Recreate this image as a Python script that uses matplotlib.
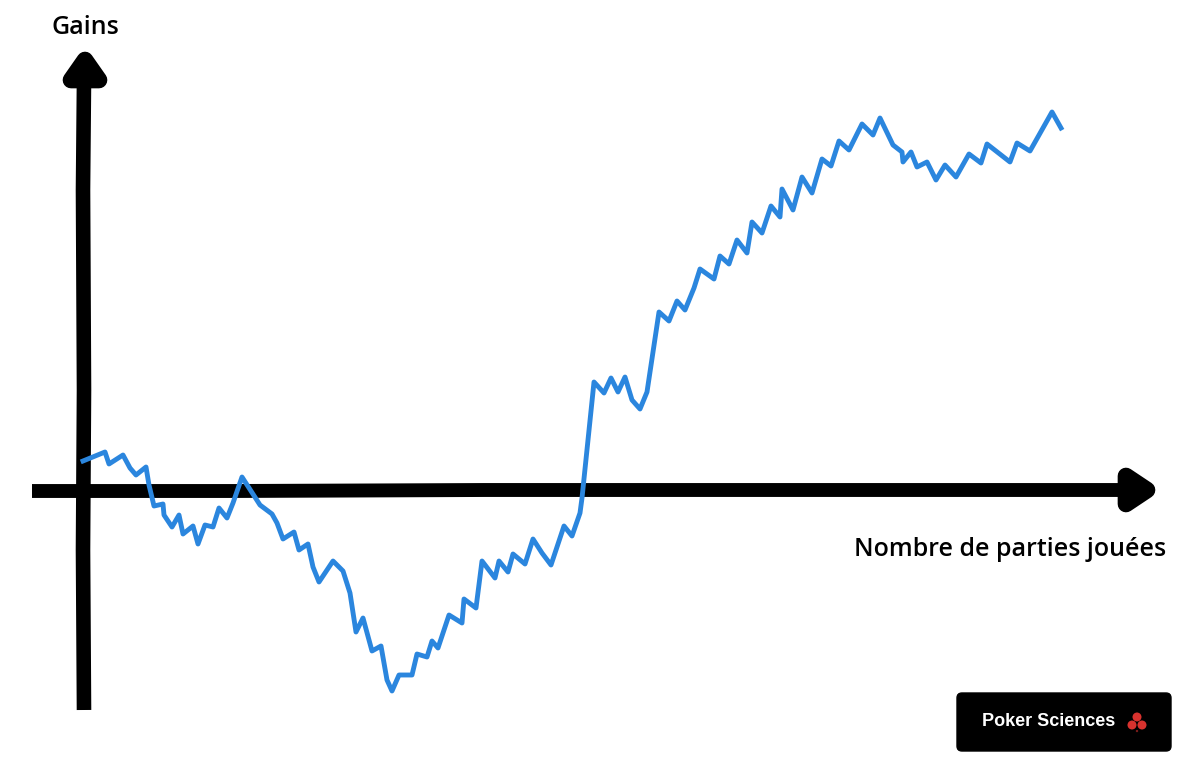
import matplotlib
matplotlib.use('Agg')
import matplotlib.pyplot as plt
from matplotlib.patches import Circle, FancyBboxPatch, Polygon

# courbe de gains (parties jouées, gains)
parties = [-1, 21, 25, 39, 46, 52, 62, 65, 70, 79, 80, 88, 95, 99, 109, 114, 121, 129, 135, 143,
           149, 158, 176, 188, 193, 199, 210, 215, 224, 229, 235, 249, 259, 266, 272, 279, 288, 297, 303, 308,
           315, 328, 333, 343, 348, 354, 365, 378, 380, 392, 398, 411, 415, 424, 429, 441, 449, 458, 467, 480,
           488, 496, 498, 510, 520, 527, 534, 541, 548, 556, 563, 575, 585, 593, 601, 610, 616, 630, 636, 645,
           653, 663, 668, 678, 687, 696, 698, 709, 718, 728, 738, 747, 755, 765, 778, 789, 796, 809, 818, 819,
           827, 833, 843, 852, 861, 872, 885, 897, 903, 926, 933, 946, 968, 977]
gains = [29, 38, 26, 35, 22, 15, 23, 5, -16, -14, -25, -37, -25, -44, -36, -54, -35, -37, -18, -28,
         -13, 13, -15, -24, -33, -49, -42, -60, -54, -77, -92, -71, -81, -103, -142, -128, -161, -156, -190, -201,
         -185, -185, -164, -167, -151, -158, -125, -133, -109, -118, -71, -88, -71, -82, -64, -74, -49, -63, -75, -36,
         -46, -23, -8, 108, 97, 112, 98, 113, 90, 81, 98, 178, 169, 189, 180, 202, 221, 211, 234, 226,
         250, 237, 268, 257, 284, 273, 301, 280, 313, 297, 331, 324, 349, 340, 366, 355, 372, 345, 338, 328,
         338, 323, 328, 310, 325, 313, 336, 327, 346, 328, 347, 339, 378, 362]

# axes dessinés à la main
axe_x_x = [-52, 150, 400, 700, 1040]
axe_x_y = [-1, -1, 0, 0, 0]
axe_y_x = [0, -1, 0, -1, 0]
axe_y_y = [-220, -60, 100, 300, 410]

titre_y = 'Gains'
titre_x = 'Nombre de parties jouées'
logo = 'Poker Sciences'

fig = plt.figure(figsize=(12, 7.75), dpi=100)
ax = fig.add_axes([0, 0, 1, 1])
ax.set_xlim(-84, 1116)
ax.set_ylim(-285, 490)
ax.axis('off')

ax.plot(axe_x_x, axe_x_y, color='black', lw=10, solid_capstyle='butt', zorder=1)
ax.plot(axe_y_x, axe_y_y, color='black', lw=10.5, solid_capstyle='butt', zorder=1)

# pointes de flèches
ax.add_patch(Polygon([(1, 430), (-13, 410), (15, 410)], closed=True, fc='black', ec='black',
                     lw=12, joinstyle='round', zorder=2))
ax.add_patch(Polygon([(1063, 0), (1042, 14), (1042, -14)], closed=True, fc='black', ec='black',
                     lw=12, joinstyle='round', zorder=2))

ax.plot(parties, gains, color='#2b86de', lw=3.5, solid_joinstyle='round', zorder=3)

ax.text(1, 463, titre_y, fontsize=18, family='Open Sans', fontweight='semibold',
        ha='center', va='center', color='black')
ax.text(926, -60, titre_x, fontsize=18, family='Open Sans', fontweight='semibold',
        ha='center', va='center', color='black')

# logo en bas à droite
ax.add_patch(FancyBboxPatch((873, -261), 214, 58, boxstyle='round,pad=0,rounding_size=5',
                            fc='black', ec='black', lw=1, zorder=4))
ax.text(965, -232, logo, fontsize=13, fontweight='bold', color='white', ha='center', va='center',
        family='Liberation Sans', zorder=5)
for cx, cy in [(1053, -227), (1048, -235), (1058, -235)]:
    ax.add_patch(Circle((cx, cy), 4.5, fc='#d8322e', ec='none', zorder=5))
ax.add_patch(Circle((1053, -241), 1.2, fc='#7a1c1a', ec='none', zorder=5))

plt.savefig('out.png', dpi=100)
